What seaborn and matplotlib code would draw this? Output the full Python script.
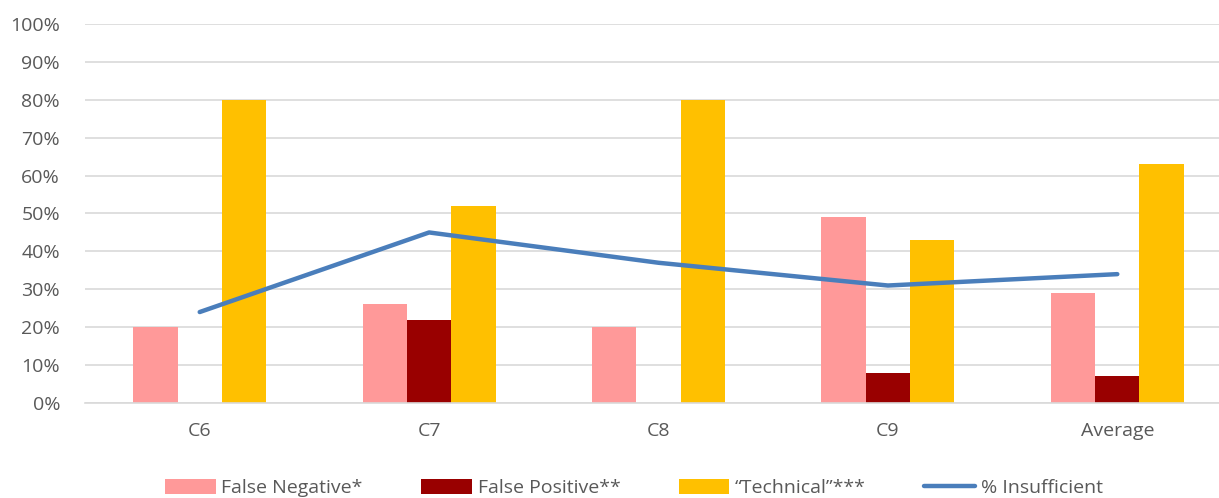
import numpy as np
import pandas as pd
import matplotlib
matplotlib.use("Agg")
import matplotlib.pyplot as plt
import seaborn as sns
from matplotlib.patches import Patch
from matplotlib.lines import Line2D
from matplotlib.ticker import PercentFormatter

# ---------------- DATA ----------------
categories = ["C6", "C7", "C8", "C9", "Average"]
series = ["False Negative*", "False Positive**", "\u201cTechnical\u201d***"]
false_negative = [20, 26, 20, 49, 29]
false_positive = [0, 22, 0, 8, 7]
technical = [80, 52, 80, 43, 63]
insufficient = [24, 45, 37, 31, 34]

colors = ["#FF9999", "#990000", "#FFC000"]
line_color = "#4A7EBB"
text_color = "#595959"

df = pd.DataFrame({
    "category": categories * 3,
    "series": [s for s in series for _ in categories],
    "value": false_negative + false_positive + technical,
})

sns.set_theme(style="white")
plt.rcParams["font.family"] = ["Open Sans", "DejaVu Sans"]

fig = plt.figure(figsize=(12.19, 4.98), dpi=100)
ax = fig.add_axes([85 / 1219, 95 / 498, 1147 / 1219, 379 / 498])

sns.barplot(data=df, x="category", y="value", hue="series", order=categories,
            hue_order=series, palette=colors, width=0.58, gap=0,
            saturation=1, legend=False, linewidth=0, ax=ax)
sns.lineplot(x=np.arange(len(categories)), y=insufficient, color=line_color,
             linewidth=3.2, ax=ax, solid_capstyle="round")

ax.set_ylim(0, 100)
ax.set_xlim(-0.5, len(categories) - 0.5)
ax.set_yticks(range(0, 101, 10))
ax.yaxis.set_major_formatter(PercentFormatter(decimals=0))
ax.grid(axis="y", color="#D9D9D9", linewidth=1.2)
ax.set_axisbelow(True)
for s in ["top", "right", "left"]:
    ax.spines[s].set_visible(False)
ax.spines["bottom"].set_color("#D9D9D9")
ax.spines["bottom"].set_linewidth(1.2)
ax.set_xlabel("")
ax.set_ylabel("")
ax.tick_params(axis="both", length=0, labelsize=14, labelcolor=text_color)
ax.tick_params(axis="x", pad=14)
ax.tick_params(axis="y", pad=18)

handles = [Patch(facecolor=c, edgecolor="none") for c in colors]
handles.append(Line2D([0], [0], color=line_color, linewidth=3.2, solid_capstyle="round"))
labels = series + ["% Insufficient"]
fig.legend(handles, labels, loc="lower center", bbox_to_anchor=(0.52, -0.034), ncol=4,
           frameon=False, fontsize=14, labelcolor=text_color, handlelength=2.6,
           handleheight=0.8, columnspacing=3.0, handletextpad=0.3)

fig.savefig("out.png", dpi=100)
